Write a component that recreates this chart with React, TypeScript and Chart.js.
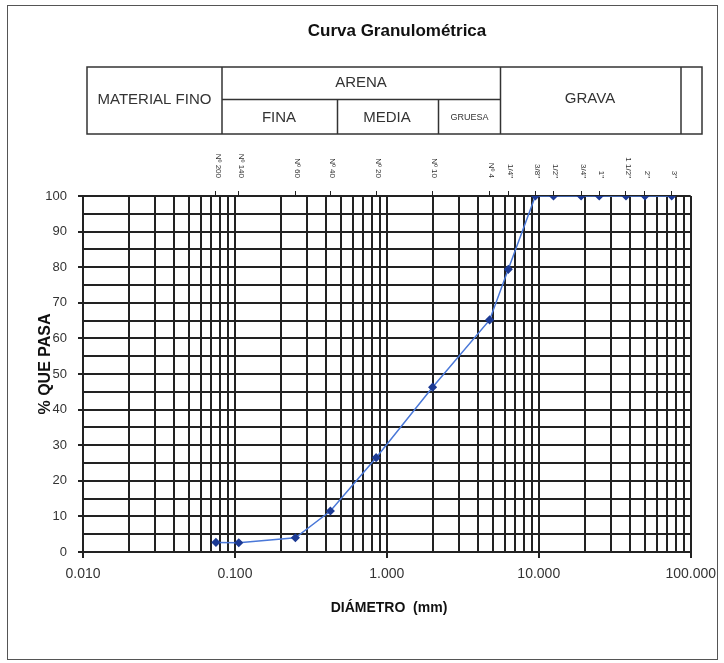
import React, { useEffect, useRef } from 'react';
import { Chart, registerables } from 'chart.js';

Chart.register(...registerables);

// ---- data ----
const sieveLabels = ['Nº 200', 'Nº 140', 'Nº 60', 'Nº 40', 'Nº 20', 'Nº 10', 'Nº 4', '1/4"', '3/8"', '1/2"', '3/4"', '1"', '1 1/2"', '2"', '3"'];
const sieveSizes = [0.075, 0.106, 0.25, 0.425, 0.85, 2.0, 4.75, 6.3, 9.5, 12.5, 19.0, 25.0, 37.5, 50.0, 75.0];
const percentPassing = [2.7, 2.6, 4.0, 11.5, 26.5, 46.3, 65.2, 79.4, 100, 100, 100, 100, 100, 100, 100];

const xGridValues = [
  0.01, 0.02, 0.03, 0.04, 0.05, 0.06, 0.07, 0.08, 0.09,
  0.1, 0.2, 0.3, 0.4, 0.5, 0.6, 0.7, 0.8, 0.9,
  1, 2, 3, 4, 5, 6, 7, 8, 9,
  10, 20, 30, 40, 50, 60, 70, 80, 90,
  100,
];
const xDecadeValues = [0.01, 0.1, 1, 10, 100];
const xDecadeLabels = ['0.010', '0.100', '1.000', '10.000', '100.000'];
const yGridValues = [0, 5, 10, 15, 20, 25, 30, 35, 40, 45, 50, 55, 60, 65, 70, 75, 80, 85, 90, 95, 100];
const yLabelValues = [0, 10, 20, 30, 40, 50, 60, 70, 80, 90, 100];

const chartTitle = 'Curva Granulométrica';
const xTitle = 'DIÁMETRO  (mm)';
const yTitle = '% QUE PASA';
const tableTexts = ['MATERIAL FINO', 'ARENA', 'FINA', 'MEDIA', 'GRUESA', 'GRAVA'];

const FONT = '"Liberation Sans", Arial, sans-serif';
const GRID = '#222';

function decadeIndex(v: number): number {
  for (let i = 0; i < xDecadeValues.length; i++) {
    if (Math.abs(v - xDecadeValues[i]) <= xDecadeValues[i] * 1e-6) return i;
  }
  return -1;
}

const decorPlugin = {
  id: 'decor',
  afterDraw(chart: any) {
    const ctx: CanvasRenderingContext2D = chart.ctx;
    ctx.save();

    // outer frame
    ctx.strokeStyle = '#555';
    ctx.lineWidth = 1;
    ctx.strokeRect(7.5, 5.5, 710, 654);

    // title
    ctx.fillStyle = '#111';
    ctx.font = `bold 17px ${FONT}`;
    ctx.textAlign = 'center';
    ctx.textBaseline = 'middle';
    ctx.fillText(chartTitle, 397, 31);

    // table
    ctx.strokeStyle = '#333';
    ctx.lineWidth = 1.5;
    ctx.strokeRect(87, 67, 615, 67);
    const vline = (x: number, y1: number, y2: number) => {
      ctx.beginPath();
      ctx.moveTo(x, y1);
      ctx.lineTo(x, y2);
      ctx.stroke();
    };
    vline(222, 67, 134);
    vline(500.5, 67, 134);
    vline(681, 67, 134);
    ctx.beginPath();
    ctx.moveTo(222, 99.5);
    ctx.lineTo(500.5, 99.5);
    ctx.stroke();
    vline(337.5, 99.5, 134);
    vline(438.5, 99.5, 134);

    ctx.fillStyle = '#333';
    ctx.font = `15px ${FONT}`;
    ctx.fillText(tableTexts[0], 154.5, 99.5);
    ctx.fillText(tableTexts[1], 361, 82.5);
    ctx.fillText(tableTexts[2], 279, 118);
    ctx.fillText(tableTexts[3], 387, 118);
    ctx.font = `9px ${FONT}`;
    ctx.fillText(tableTexts[4], 469.5, 118);
    ctx.font = `15px ${FONT}`;
    ctx.fillText(tableTexts[5], 590, 99);

    // sieve labels (rotated, from the top axis ticks)
    const s = chart.scales.x2;
    ctx.font = `8px ${FONT}`;
    ctx.fillStyle = '#333';
    s.ticks.forEach((t: any, i: number) => {
      const px = s.getPixelForTick(i);
      ctx.save();
      ctx.translate(px + 2, 178);
      ctx.rotate(Math.PI / 2);
      ctx.textAlign = 'right';
      ctx.textBaseline = 'middle';
      ctx.fillText(sieveLabels[i], 0, 0);
      ctx.restore();
    });

    // axis titles
    ctx.fillStyle = '#111';
    ctx.font = `bold 14px ${FONT}`;
    ctx.textAlign = 'center';
    ctx.textBaseline = 'middle';
    ctx.fillText(xTitle, 389, 608);

    ctx.save();
    ctx.translate(46, 364);
    ctx.rotate(-Math.PI / 2);
    ctx.font = `bold 16px ${FONT}`;
    ctx.fillText(yTitle, 0, 0);
    ctx.restore();

    ctx.restore();
  },
};

export default function App() {
  const ref = useRef<HTMLCanvasElement | null>(null);

  useEffect(() => {
    if (!ref.current) return;
    const points = sieveSizes.map((x, i) => ({ x, y: percentPassing[i] }));
    const chart = new Chart(ref.current, {
      type: 'scatter',
      data: {
        datasets: [
          {
            data: points,
            showLine: true,
            borderColor: '#4a78d8',
            borderWidth: 1.5,
            backgroundColor: '#1c3a94',
            pointBackgroundColor: '#1c3a94',
            pointBorderColor: '#1c3a94',
            pointStyle: 'rectRot',
            pointRadius: 3.5,
            xAxisID: 'x',
            yAxisID: 'y',
          },
        ],
      },
      options: {
        responsive: false,
        animation: false,
        layout: { padding: { left: 0, right: 31, top: 0, bottom: 0 } },
        plugins: { legend: { display: false }, tooltip: { enabled: false }, title: { display: false } },
        scales: {
          x: {
            type: 'logarithmic',
            position: 'bottom',
            min: 0.01,
            max: 100,
            afterBuildTicks: (s: any) => {
              s.ticks = xGridValues.map((v) => ({ value: v }));
            },
            afterFit: (s: any) => {
              s.height = 111;
            },
            ticks: {
              autoSkip: false,
              maxRotation: 0,
              minRotation: 0,
              padding: 8,
              color: '#333',
              font: { family: FONT, size: 14 },
              callback: (v: any) => {
                const i = decadeIndex(Number(v));
                return i >= 0 ? xDecadeLabels[i] : '';
              },
            },
            grid: {
              color: GRID,
              lineWidth: 2,
              tickLength: 6,
              tickColor: (c: any) => (c.tick && decadeIndex(c.tick.value) >= 0 ? GRID : 'rgba(0,0,0,0)'),
            },
            border: { color: GRID, width: 2 },
          },
          x2: {
            type: 'logarithmic',
            position: 'top',
            min: 0.01,
            max: 100,
            afterBuildTicks: (s: any) => {
              s.ticks = sieveSizes.map((v) => ({ value: v }));
            },
            afterFit: (s: any) => {
              s.height = 196;
            },
            ticks: { display: false, autoSkip: false },
            grid: { drawOnChartArea: false, drawTicks: true, tickLength: 5, color: GRID, lineWidth: 1 },
            border: { display: false },
          },
          y: {
            type: 'linear',
            position: 'left',
            min: 0,
            max: 100,
            afterBuildTicks: (s: any) => {
              s.ticks = yGridValues.map((v) => ({ value: v }));
            },
            afterFit: (s: any) => {
              s.width = 83;
            },
            ticks: {
              autoSkip: false,
              padding: 11,
              color: '#333',
              font: { family: FONT, size: 13 },
              callback: (v: any) => (yLabelValues.indexOf(Number(v)) >= 0 ? String(v) : ''),
            },
            grid: {
              color: GRID,
              lineWidth: 2,
              tickLength: 5,
              tickColor: (c: any) => (c.tick && yLabelValues.indexOf(c.tick.value) >= 0 ? GRID : 'rgba(0,0,0,0)'),
            },
            border: { color: GRID, width: 2 },
          },
        },
      },
      plugins: [decorPlugin],
    } as any);
    return () => chart.destroy();
  }, []);

  return (
    <div style={{ position: 'fixed', left: 0, top: 0, width: 724, height: 663, background: '#fff' }}>
      <canvas ref={ref} width={724} height={663} style={{ display: 'block' }} />
    </div>
  );
}
